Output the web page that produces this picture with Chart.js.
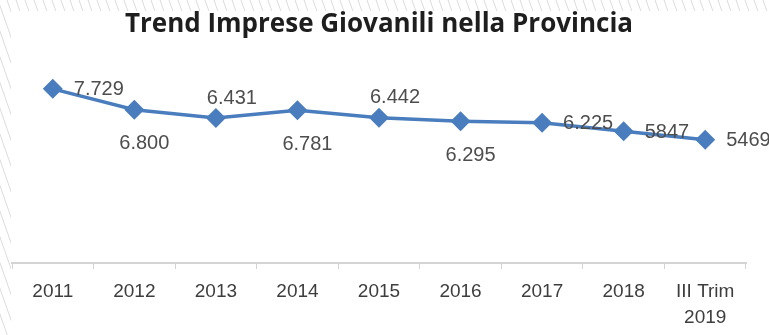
<!DOCTYPE html>
<html>
<head>
<meta charset="utf-8">
<script src="https://cdn.jsdelivr.net/npm/chart.js@4.4.1/dist/chart.umd.min.js"></script>
<style>
  html, body { margin: 0; padding: 0; background: #ffffff; }
  #wrap { width: 769px; height: 335px; }
</style>
</head>
<body>
<div id="wrap"><canvas id="trend" width="769" height="335"></canvas></div>
<script>
const categories = ['2011', '2012', '2013', '2014', '2015', '2016', '2017', '2018', ['III Trim', '2019']];
const imprese = [7729, 6800, 6431, 6781, 6442, 6295, 6225, 5847, 5469];
const impreseLabels = ['7.729', '6.800', '6.431', '6.781', '6.442', '6.295', '6.225', '5847', '5469'];

// where each value label sits relative to its point
const labelPlacement = ['right', 'below', 'above', 'below', 'above', 'below', 'right', 'right', 'right'];

const sfondo = {
    id: 'sfondo',
    beforeDraw(chart) {
        const ctx = chart.ctx;
        const w = chart.width, h = chart.height;
        ctx.save();
        ctx.fillStyle = '#ffffff';
        ctx.fillRect(0, 0, w, h);
        // light hatched border along top and left
        ctx.beginPath();
        ctx.rect(0, 0, w, 11);
        ctx.rect(0, 0, 11, h);
        ctx.clip();
        ctx.strokeStyle = '#dcdcdc';
        ctx.lineWidth = 1;
        for (let x = -h; x < w + 20; x += 9) {
            ctx.beginPath();
            ctx.moveTo(x, 0);
            ctx.lineTo(x + h * 0.35, h);
            ctx.stroke();
        }
        ctx.restore();
    }
};

const etichette = {
    id: 'etichette',
    afterDatasetsDraw(chart) {
        const ctx = chart.ctx;
        const meta = chart.getDatasetMeta(0);
        ctx.save();
        ctx.font = '20px "Liberation Sans", Arial, sans-serif';
        ctx.fillStyle = '#4d4d4d';
        ctx.textBaseline = 'middle';
        meta.data.forEach(function (pt, i) {
            const pos = labelPlacement[i];
            const txt = impreseLabels[i];
            if (pos === 'right') {
                ctx.textAlign = 'left';
                ctx.fillText(txt, pt.x + 21, pt.y + 1);
            } else if (pos === 'below') {
                ctx.textAlign = 'center';
                ctx.fillText(txt, pt.x + 10, pt.y + 34);
            } else {
                ctx.textAlign = 'center';
                ctx.fillText(txt, pt.x + 16, pt.y - 20);
            }
        });
        ctx.restore();
    }
};

let chart = new Chart(document.getElementById('trend').getContext('2d'), {
    type: 'line',
    data: {
        labels: categories,
        datasets: [
            {
                label: 'Imprese giovanili',
                data: imprese,
                borderColor: '#4a7dbd',
                backgroundColor: '#4a7dbd',
                borderWidth: 3.5,
                pointStyle: 'rectRot',
                pointRadius: 7.5,
                pointHoverRadius: 7.5,
                tension: 0
            }
        ]
    },
    options: {
        responsive: false,
        animation: false,
        devicePixelRatio: 1,
        layout: {
            padding: { left: 12, right: 23, top: 0, bottom: 0 }
        },
        plugins: {
            legend: { display: false },
            tooltip: { enabled: false },
            title: {
                display: true,
                text: 'Trend Imprese Giovanili nella Provincia',
                color: '#1e1e1e',
                font: { family: '"Open Sans", sans-serif', size: 26, weight: 'bold' },
                padding: { top: 9, bottom: 20 }
            }
        },
        scales: {
            x: {
                offset: true,
                afterFit(scale) {
                    scale.height = 72;
                },
                grid: {
                    offset: true,
                    drawOnChartArea: false,
                    tickLength: 6,
                    color: '#d4d4d4',
                    lineWidth: 1
                },
                border: { color: '#d4d4d4', width: 2 },
                ticks: {
                    color: '#3d3d3d',
                    padding: 9,
                    maxRotation: 0,
                    autoSkip: false,
                    font: { family: '"Liberation Sans", Arial, sans-serif', size: 19, lineHeight: 1.4 }
                }
            },
            y: {
                display: false,
                min: 0,
                max: 9000
            }
        }
    },
    plugins: [sfondo, etichette]
});
</script>
</body>
</html>
